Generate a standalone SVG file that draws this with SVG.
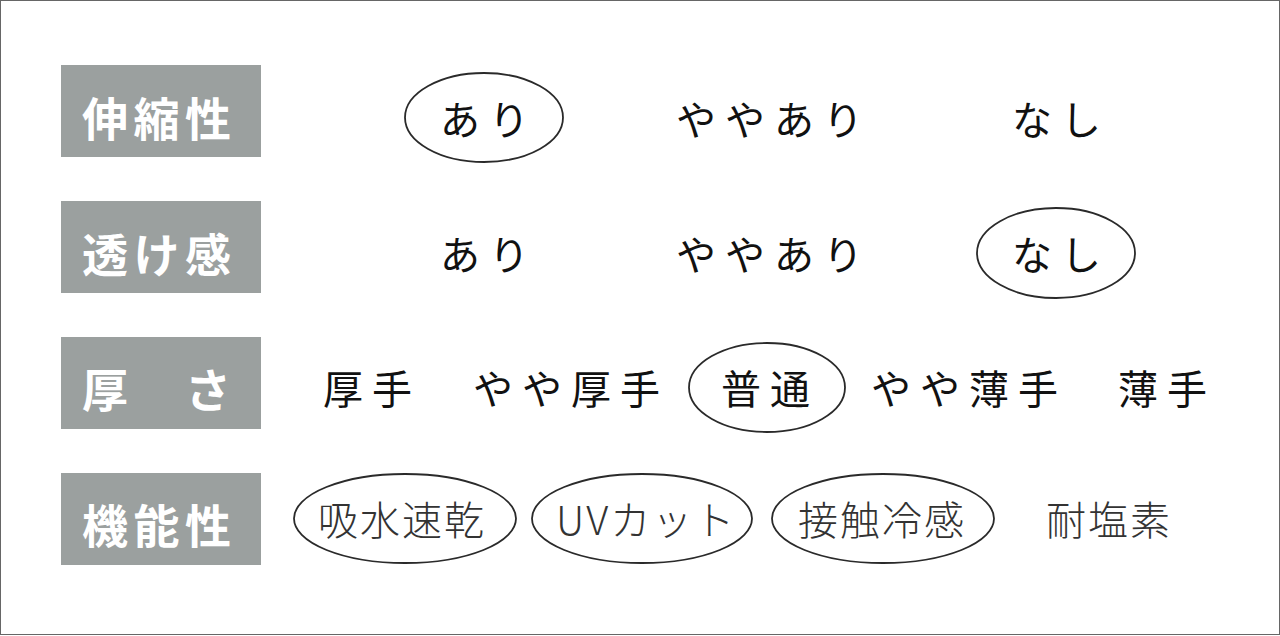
<svg xmlns="http://www.w3.org/2000/svg" width="1280" height="636" viewBox="0 0 1280 636">
<style>
.lbl{fill:#9ba09f}
.lt{font-family:"Noto Sans CJK JP","Noto Sans",sans-serif;font-weight:700;font-size:46px;fill:#fff;letter-spacing:5.5px;dominant-baseline:central}
.t{font-family:"Noto Sans CJK JP","Noto Sans",sans-serif;font-size:40px;fill:#111;letter-spacing:9px;dominant-baseline:central}
.f{font-family:"Noto Sans CJK JP","Noto Sans",sans-serif;font-weight:300;font-size:40px;fill:#333;letter-spacing:2px;dominant-baseline:central}
.ov{fill:none;stroke:#2a2a2a;stroke-width:1.8}
</style>
<rect x="0" y="0" width="1280" height="636" fill="#fff"/>
<rect x="0.5" y="0.5" width="1279" height="634" fill="none" stroke="#666" stroke-width="1"/>
<g id="row-stretch">
<rect class="lbl" x="61" y="65" width="200" height="92"/>
<text class="lt" x="82" y="116">伸縮性</text>
<ellipse class="ov" cx="484" cy="117.5" rx="79" ry="44.5"/>
<text class="t" x="440" y="117.5">あり</text>
<text class="t" x="676" y="117.5">ややあり</text>
<text class="t" x="1012" y="117.5">なし</text>
</g>
<g id="row-sheer">
<rect class="lbl" x="61" y="201" width="200" height="92"/>
<text class="lt" x="82" y="252">透け感</text>
<text class="t" x="440" y="253">あり</text>
<text class="t" x="676" y="253">ややあり</text>
<ellipse class="ov" cx="1056" cy="253" rx="79" ry="45"/>
<text class="t" x="1012" y="253">なし</text>
</g>
<g id="row-thickness">
<rect class="lbl" x="61" y="337" width="200" height="92"/>
<text class="lt" x="82" y="387">厚　さ</text>
<text class="t" x="323" y="387">厚手</text>
<text class="t" x="473" y="387">やや厚手</text>
<ellipse class="ov" cx="767" cy="387.5" rx="78" ry="44.5"/>
<text class="t" x="721" y="387">普通</text>
<text class="t" x="871" y="387">やや薄手</text>
<text class="t" x="1118" y="387">薄手</text>
</g>
<g id="row-function">
<rect class="lbl" x="61" y="473" width="200" height="92"/>
<text class="lt" x="82" y="523">機能性</text>
<ellipse class="ov" cx="405" cy="518.5" rx="111" ry="44.5"/>
<text class="f" x="318" y="518">吸水速乾</text>
<ellipse class="ov" cx="642" cy="518.5" rx="110" ry="44.5"/>
<text class="f" x="556" y="518">UVカット</text>
<ellipse class="ov" cx="883" cy="518.5" rx="111" ry="44.5"/>
<text class="f" x="798" y="518">接触冷感</text>
<text class="f" x="1046" y="518">耐塩素</text>
</g>
</svg>
